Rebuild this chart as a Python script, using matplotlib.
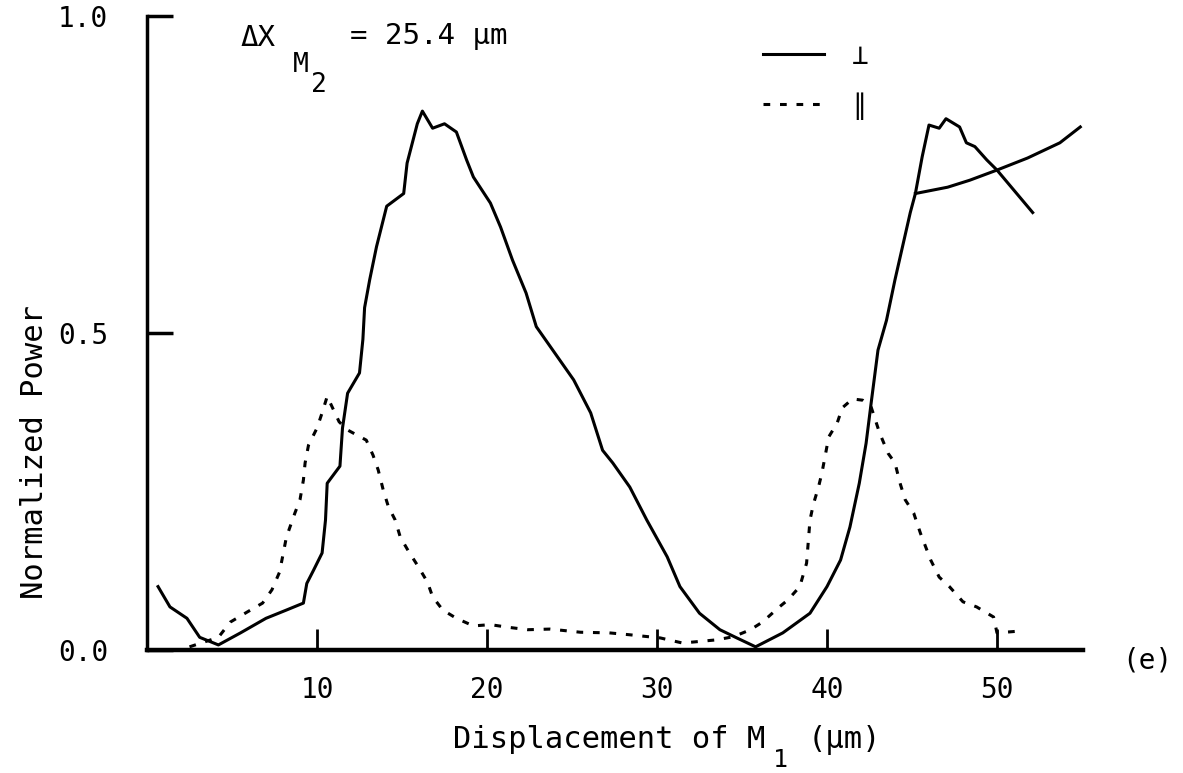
import matplotlib
matplotlib.use("Agg")
import matplotlib.pyplot as plt
from matplotlib.lines import Line2D

# values
solid_x = [0.65, 1.35, 2.35, 3.1, 4.2, 5.5, 7.0, 8.2, 9.2, 9.4, 9.8, 10.3, 10.5, 10.6, 11.35, 11.5,
           11.8, 12.5, 12.7, 12.8, 13.1, 13.5, 14.1, 15.1, 15.3, 15.9, 16.2, 16.8, 17.5, 18.2, 18.8,
           19.2, 20.2, 20.8, 21.5, 22.3, 22.9, 25.1, 26.1, 26.8, 27.4, 28.4, 29.4, 30.6, 31.35, 32.5,
           33.7, 34.7, 35.8, 37.4, 39.0, 40.0, 40.8, 41.35, 41.9, 42.3, 42.6, 43.0, 43.5, 44.0, 44.9,
           45.2, 45.6, 46.0, 46.6, 47.0, 47.8, 48.2, 48.7, 49.4, 50.0, 52.1]
solid_y = [0.10, 0.068, 0.05, 0.02, 0.008, 0.027, 0.05, 0.063, 0.074, 0.105, 0.126, 0.153, 0.205, 0.263, 0.29, 0.35,
           0.405, 0.437, 0.49, 0.54, 0.584, 0.636, 0.70, 0.72, 0.768, 0.83, 0.85, 0.823, 0.83, 0.817, 0.773,
           0.746, 0.705, 0.667, 0.615, 0.563, 0.51, 0.426, 0.374, 0.315, 0.295, 0.257, 0.205, 0.147, 0.10, 0.058,
           0.032, 0.019, 0.005, 0.027, 0.058, 0.10, 0.142, 0.194, 0.263, 0.326, 0.39, 0.473, 0.52, 0.584, 0.69,
           0.72, 0.778, 0.828, 0.823, 0.838, 0.825, 0.80, 0.794, 0.773, 0.757, 0.69]

# second solid trace starting at the crossing near 45 um
branch_x = [45.2, 47.1, 48.4, 50.0, 51.8, 53.7, 54.9]
branch_y = [0.72, 0.73, 0.741, 0.757, 0.776, 0.80, 0.825]

dashed_x = [2.5, 4.2, 4.9, 5.9, 6.8, 7.35, 7.8, 8.2, 8.7, 9.0, 9.2, 9.3, 9.5, 10.0, 10.3, 10.6, 11.3, 11.8,
            12.9, 13.3, 13.6, 13.9, 14.2, 14.6, 14.9, 15.4, 15.9, 16.5, 16.8, 17.4, 18.2, 19.2, 20.2, 21.2,
            22.4, 23.7, 25.5, 27.2, 28.4, 30.2, 31.5, 33.5, 34.5, 35.5, 36.2, 37.2, 37.7, 38.4, 38.8, 39.0,
            39.2, 39.5, 39.7, 39.9, 40.1, 40.6, 40.9, 41.5, 42.1, 42.6, 43.1, 43.6, 44.0, 44.3, 44.6, 45.1,
            45.5, 46.1, 46.6, 47.2, 48.0, 48.8, 49.8, 50.0, 51.4]
dashed_y = [0.005, 0.02, 0.044, 0.06, 0.074, 0.095, 0.123, 0.178, 0.216, 0.237, 0.268, 0.295, 0.323, 0.35, 0.374, 0.40, 0.36, 0.347,
            0.331, 0.307, 0.284, 0.252, 0.226, 0.205, 0.178, 0.155, 0.134, 0.107, 0.084, 0.063, 0.05, 0.038, 0.04, 0.036,
            0.032, 0.033, 0.028, 0.027, 0.024, 0.019, 0.011, 0.016, 0.021, 0.032, 0.044, 0.068, 0.079, 0.10, 0.137, 0.205,
            0.23, 0.257, 0.279, 0.307, 0.336, 0.358, 0.382, 0.396, 0.394, 0.383, 0.342, 0.31, 0.295, 0.263, 0.237, 0.216,
            0.184, 0.142, 0.115, 0.10, 0.076, 0.068, 0.052, 0.027, 0.03]

x_ticks = [10, 20, 30, 40, 50]
y_ticks = [0.0, 0.5, 1.0]
y_ticklabels = ["0.0", "0.5", "1.0"]
legend_labels = ["\u22a5", "\u2225"]

plt.rcParams["font.family"] = ["DejaVu Sans Mono", "DejaVu Sans"]

fig = plt.figure(figsize=(11.83, 7.73), dpi=100)
ax = fig.add_axes([147 / 1183, 1 - 650 / 773, (1083 - 147) / 1183, (650 - 16) / 773])

ax.plot(solid_x, solid_y, color="black", lw=2.2)
ax.plot(branch_x, branch_y, color="black", lw=2.2)
ax.plot(dashed_x, dashed_y, color="black", lw=2.2, linestyle=(0, (2.2, 3.2)))

ax.set_xlim(0, 55.06)
ax.set_ylim(0, 1.0)
for side in ["top", "right"]:
    ax.spines[side].set_visible(False)
ax.spines["left"].set_linewidth(2.5)
ax.spines["bottom"].set_linewidth(3.2)

ax.set_xticks(x_ticks)
ax.set_yticks(y_ticks)
ax.set_yticklabels(y_ticklabels)
ax.tick_params(axis="x", direction="in", length=15, width=2, pad=19, labelsize=20)
ax.tick_params(axis="y", direction="in", length=19, width=2.5, pad=28, labelsize=20)

legend_elements = [Line2D([0], [0], color="black", lw=2.2, label=legend_labels[0]),
                   Line2D([0], [0], color="black", lw=2.2, linestyle=(0, (2.2, 3.2)), label=legend_labels[1])]
fig.legend(handles=legend_elements, loc="upper left", bbox_to_anchor=(763 / 1183, 1 - 42 / 773),
           frameon=False, fontsize=20, handlelength=2.2, labelspacing=0.78, handletextpad=1.0,
           borderpad=0, borderaxespad=0)

# delta X_M2 annotation, subscripts placed by hand like the typewritten original
fig.text(240 / 1183, 1 - 38 / 773, "\u0394X", fontsize=21, va="center", ha="left")
fig.text(293 / 1183, 1 - 65 / 773, "M", fontsize=19, va="center", ha="left")
fig.text(311 / 1183, 1 - 85 / 773, "2", fontsize=19, va="center", ha="left")
fig.text(350 / 1183, 1 - 36 / 773, "= 25.4 \u03bcm", fontsize=21, va="center", ha="left")

fig.text(1147 / 1183, 1 - 660 / 773, "(e)", fontsize=20, va="center", ha="center")

fig.text(35 / 1183, 1 - 452 / 773, "Normalized Power", fontsize=22, rotation=90, va="center", ha="center")

fig.text(453 / 1183, 1 - 740 / 773, "Displacement of M", fontsize=22, va="center", ha="left")
fig.text(773 / 1183, 1 - 760 / 773, "1", fontsize=18, va="center", ha="left")
fig.text(808 / 1183, 1 - 740 / 773, "(\u03bcm)", fontsize=22, va="center", ha="left")

fig.savefig("out.png", dpi=100)
